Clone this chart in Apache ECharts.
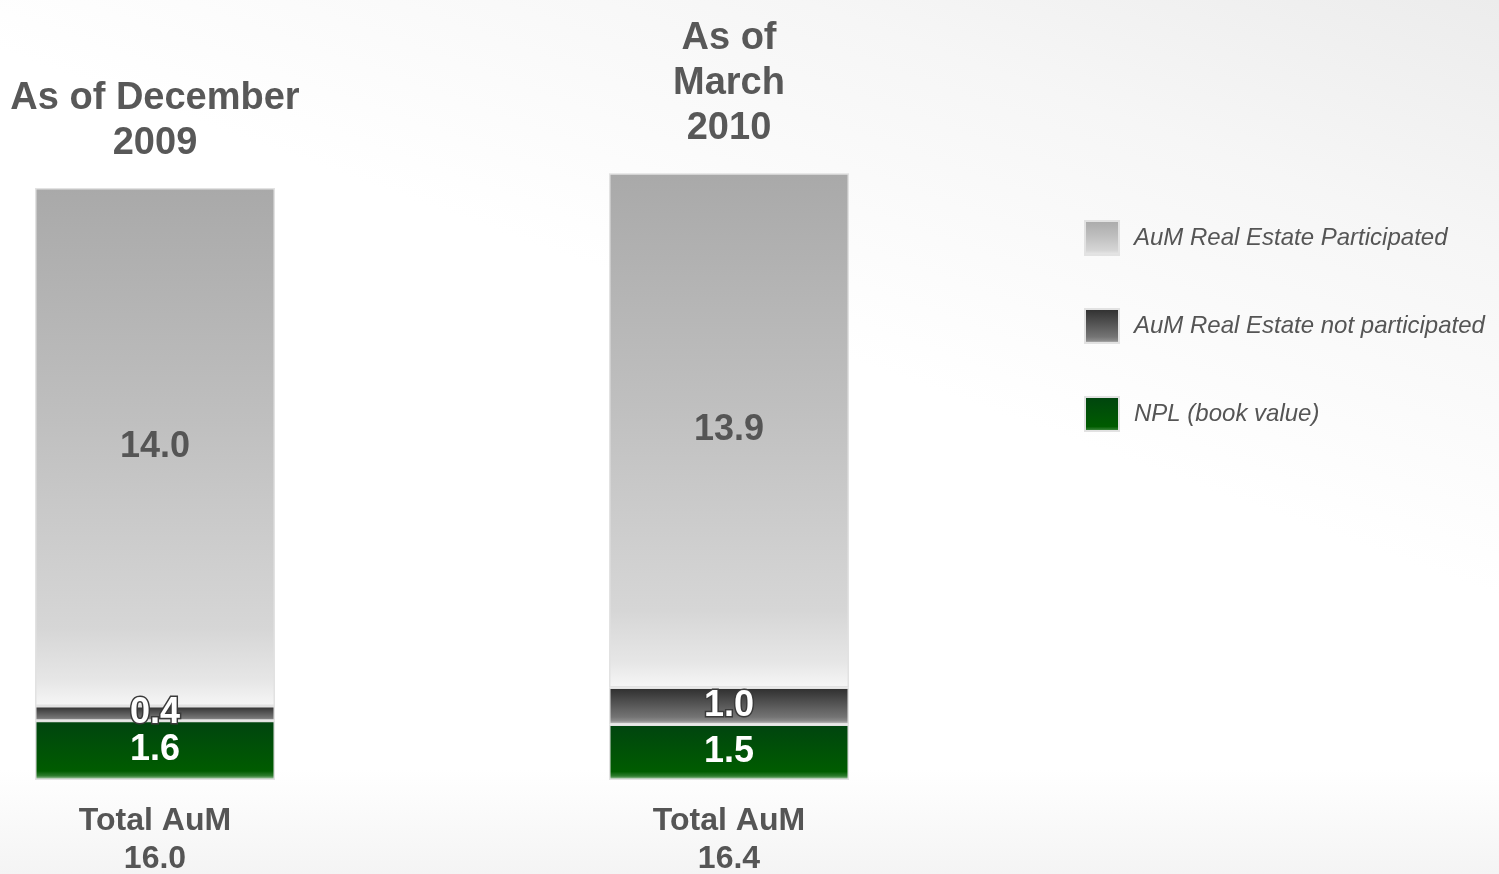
<!DOCTYPE html>
<html>
<head>
<meta charset="utf-8">
<title>AuM breakdown</title>
<script src="https://cdn.jsdelivr.net/npm/echarts@6/dist/echarts.min.js"></script>
<style>
  html, body { margin: 0; padding: 0; }
  body {
    width: 1499px; height: 874px; overflow: hidden;
    background:
      linear-gradient(to bottom, rgba(255,255,255,0) 88%, #f4f4f4 100%),
      linear-gradient(200deg, #ececec 0%, #f6f6f6 18%, #ffffff 42%);
  }
  #chart { width: 1499px; height: 874px; }
</style>
</head>
<body>
<div id="chart"></div>
<script>
// Periods shown as bar headings
const periods = ['As of December\n2009', 'As of\nMarch\n2010'];

// Series names (legend order, top to bottom)
const seriesNames = [
  'AuM Real Estate Participated',
  'AuM Real Estate not participated',
  'NPL (book value)'
];

// Values in EUR bn
const npl = [1.6, 1.5];
const notParticipated = [0.4, 1.0];
const participated = [14.0, 13.9];

const totals = periods.map((_, i) => npl[i] + notParticipated[i] + participated[i]);

const FONT = '"Liberation Sans", Arial, Helvetica, sans-serif';

function vGrad(stops) {
  return new echarts.graphic.LinearGradient(0, 0, 0, 1,
    stops.map(([offset, color]) => ({ offset, color })));
}

const lightFill = vGrad([[0, '#a9a9a9'], [0.45, '#bfbfbf'], [0.85, '#d6d6d6'], [0.95, '#e6e6e6'], [1, '#f6f6f6']]);
const darkFill = vGrad([[0, '#2d2d2d'], [0.8, '#747474'], [0.9, '#8a8a8a'], [1, '#d0d0d0']]);
const greenFill = vGrad([[0, '#00440f'], [0.85, '#005c00'], [0.93, '#2e7d2e'], [1, '#cfe3cf']]);

const barBorder = { borderColor: '#e2e2e2', borderWidth: 1.5 };

const valueLabel = (color, extra) => Object.assign({
  show: true,
  position: 'inside',
  color: color,
  fontFamily: FONT,
  fontWeight: 'bold',
  fontSize: 36,
  formatter: p => p.value.toFixed(1)
}, extra || {});

const chart = echarts.init(document.getElementById('chart'), null, { renderer: 'canvas' });

chart.setOption({
  backgroundColor: 'transparent',
  animation: false,
  grid: { left: 155, right: 770, top: 114, bottom: 94, outerBoundsMode: 'none' },
  legend: {
    orient: 'vertical',
    left: 1079,
    top: 215,
    itemWidth: 34,
    itemHeight: 34,
    itemGap: 52,
    icon: 'rect',
    selectedMode: false,
    data: seriesNames,
    textStyle: {
      fontFamily: FONT,
      fontStyle: 'italic',
      fontSize: 24,
      color: '#555555',
      padding: [0, 0, 0, 10]
    }
  },
  xAxis: {
    type: 'category',
    boundaryGap: false,
    data: periods,
    axisLine: { show: false },
    axisTick: { show: false },
    axisLabel: {
      margin: 22,
      fontFamily: FONT,
      fontWeight: 'bold',
      fontSize: 32,
      lineHeight: 38,
      color: '#555555',
      formatter: (v, i) => 'Total AuM\n' + totals[i].toFixed(1)
    }
  },
  yAxis: {
    type: 'value',
    min: 0,
    max: 18,
    show: false
  },
  series: [
    {
      name: seriesNames[2],
      type: 'bar',
      stack: 'aum',
      barWidth: 240,
      clip: false,
      data: npl,
      itemStyle: Object.assign({ color: greenFill }, barBorder),
      label: valueLabel('#ffffff')
    },
    {
      name: seriesNames[1],
      type: 'bar',
      stack: 'aum',
      barWidth: 240,
      clip: false,
      z: 3,
      data: notParticipated,
      itemStyle: Object.assign({ color: darkFill }, barBorder),
      label: valueLabel('#ffffff', { textBorderColor: '#3a3a3a', textBorderWidth: 3 })
    },
    {
      name: seriesNames[0],
      type: 'bar',
      stack: 'aum',
      barWidth: 240,
      clip: false,
      data: participated,
      itemStyle: Object.assign({ color: lightFill }, barBorder),
      label: valueLabel('#555555')
    },
    {
      // headings above each stacked bar
      name: 'heading',
      type: 'bar',
      stack: 'aum',
      barWidth: 240,
      clip: false,
      silent: true,
      data: periods.map(() => 0),
      itemStyle: { color: 'transparent' },
      label: {
        show: true,
        position: 'top',
        distance: 22,
        fontFamily: FONT,
        fontWeight: 'bold',
        fontSize: 38,
        lineHeight: 45,
        color: '#585858',
        align: 'center',
        formatter: p => periods[p.dataIndex]
      }
    }
  ]
});
</script>
</body>
</html>
